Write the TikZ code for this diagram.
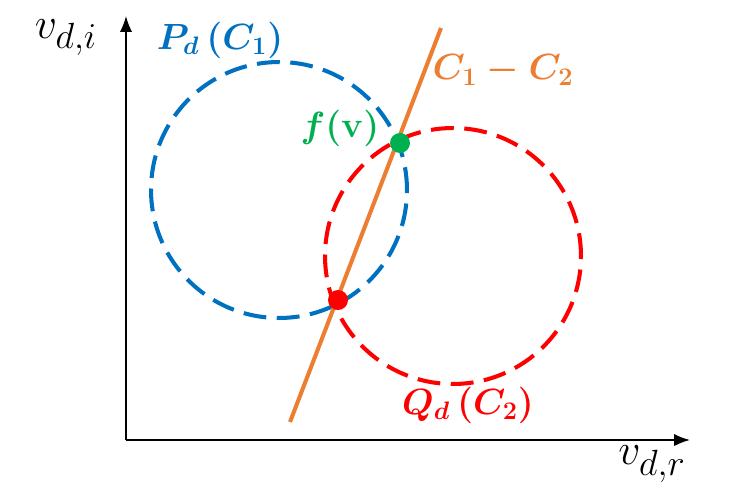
\documentclass[tikz,border=0pt]{standalone}
\usepackage{amsmath,amssymb}
\usepackage{tikz}
\usetikzlibrary{arrows.meta,positioning}
\definecolor{pblue}{HTML}{0070C0}
\definecolor{qred}{HTML}{FF0000}
\definecolor{lorange}{HTML}{ED7D31}
\definecolor{fgreen}{HTML}{00B050}
\tikzset{dashed ring/.style={
	draw,
	circle,
	dash pattern=on 13pt off 6pt,
	line width=2.3pt,
	inner sep=0mm,
}}
\tikzset{dot/.style={
	circle,
	inner sep=0mm,
	minimum size=0.4cm,
}}
\tikzset{big label/.style={
	font=\huge,
	inner sep=0mm,
}}

\begin{document}
\begin{tikzpicture}[x=0.02cm,y=-0.02cm]
\useasboundingbox (0,0) rectangle (730,491);

% axes
\coordinate(o) at (126,440);
\coordinate(ytop) at (126,16);
\coordinate(xend) at (690,440);
\draw[line width=1pt,-{Latex[length=9pt,width=7pt]}] (o) -- (ytop);
\draw[line width=1pt,-{Latex[length=9pt,width=7pt]}] (o) -- (xend);
\node[big label,font=\Huge](vi) at (66,38) {$v_{d,i}$};
\node[big label,font=\Huge](vr) at (652,464) {$v_{d,r}$};

% circles
\node[dashed ring,pblue,minimum size=5.12cm](pc) at (279,190) {};
\node[dashed ring,qred,minimum size=5.12cm](qc) at (453,256) {};

% line
\coordinate(la) at (290,422);
\coordinate(lb) at (441,28);
\draw[lorange,line width=2.3pt] (la) -- (lb);

% intersection points
\node[dot,fill=fgreen](fv) at (400,143) {};
\node[dot,fill=qred](rp) at (338,300) {};

% labels
\node[big label,pblue](pl) at (220,40) {$\boldsymbol{P_d\,(C_1)}$};
\node[big label,lorange](cl) at (503,70) {$\boldsymbol{C_1-C_2}$};
\node[big label,fgreen](fl) at (340,128) {$\boldsymbol{f(\mathbf{v})}$};
\node[big label,qred](ql) at (468,405) {$\boldsymbol{Q_d\,(C_2)}$};

\end{tikzpicture}
\end{document}
